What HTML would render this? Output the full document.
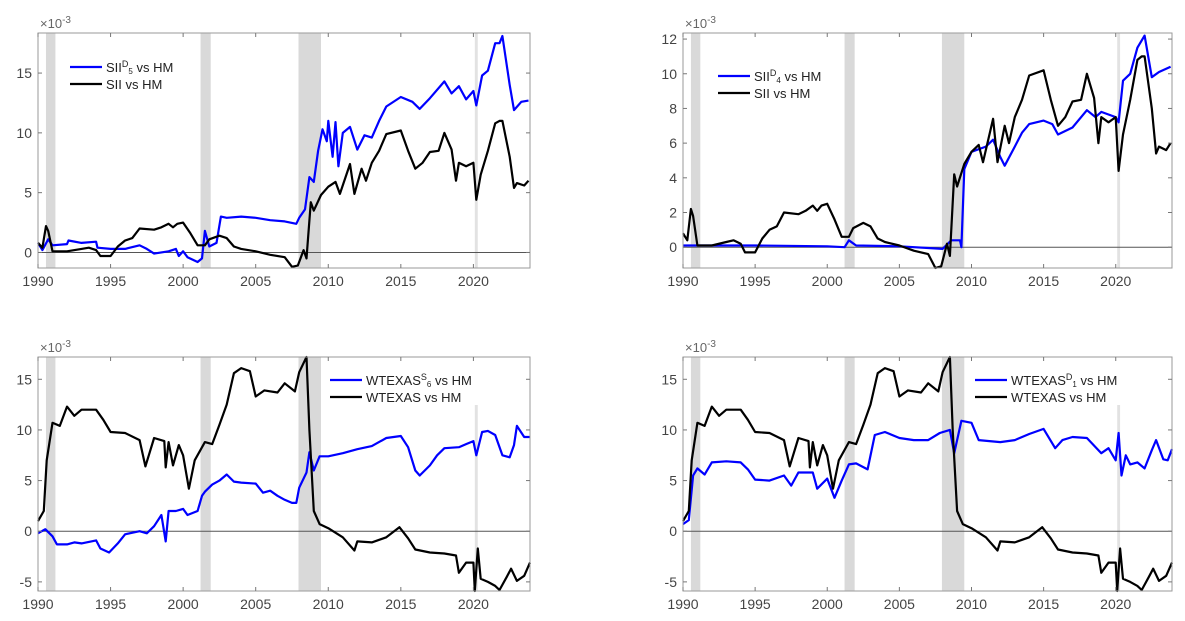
<!DOCTYPE html>
<html><head><meta charset="utf-8">
<style>
html,body{margin:0;padding:0;background:#fff;}
svg{display:block;font-family:"Liberation Sans",sans-serif;}
</style></head>
<body>
<svg id="chart" width="1185" height="621" viewBox="0 0 1185 621" xmlns="http://www.w3.org/2000/svg"></svg>
<script>
const recessions = [[1990.55,1991.2],[2001.2,2001.9],[2007.95,2009.5]];
const covidBar = [2020.1,2020.3];
const xTicks = [1990,1995,2000,2005,2010,2015,2020];

const siiVsHm = [[1990,0.8],[1990.3,0.4],[1990.55,2.2],[1990.7,1.8],[1991,0.1],[1992,0.1],[1993,0.3],[1993.5,0.4],[1994,0.2],[1994.3,-0.3],[1995,-0.3],[1995.5,0.5],[1996,1],[1996.5,1.2],[1997,2],[1998,1.9],[1998.5,2.1],[1999,2.4],[1999.3,2.1],[1999.6,2.4],[2000,2.5],[2000.5,1.6],[2001,0.6],[2001.5,0.6],[2001.8,1.1],[2002.5,1.4],[2003,1.2],[2003.5,0.5],[2004,0.3],[2005,0.1],[2006,-0.2],[2007,-0.4],[2007.5,-1.2],[2007.9,-1.1],[2008.3,0.2],[2008.5,-0.5],[2008.8,4.2],[2009,3.5],[2009.5,4.8],[2010,5.5],[2010.5,5.9],[2010.8,4.9],[2011.5,7.4],[2011.8,4.9],[2012.3,7],[2012.6,6],[2013,7.5],[2013.5,8.5],[2014,9.9],[2015,10.2],[2015.5,8.5],[2016,7],[2016.5,7.5],[2017,8.4],[2017.6,8.5],[2018,10],[2018.5,8.6],[2018.8,6],[2019,7.5],[2019.5,7.2],[2020,7.5],[2020.2,4.4],[2020.5,6.5],[2021,8.5],[2021.5,10.8],[2021.8,11],[2022,11],[2022.5,8],[2022.8,5.4],[2023,5.8],[2023.5,5.6],[2023.8,6]];
const siiD5 = [[1990,0.8],[1990.3,0.2],[1990.7,1.1],[1991,0.6],[1992,0.7],[1992.1,1],[1993,0.8],[1994,0.9],[1994.1,0.4],[1995,0.3],[1996,0.3],[1997,0.6],[1997.5,0.3],[1998,-0.1],[1999,0.1],[1999.5,0.3],[1999.7,-0.3],[2000,0.1],[2000.3,-0.4],[2001,-0.8],[2001.3,-0.5],[2001.5,1.8],[2001.8,0.5],[2002.3,0.8],[2002.6,3],[2003,2.9],[2004,3],[2005,2.9],[2006,2.7],[2007,2.6],[2007.8,2.4],[2008,2.9],[2008.4,3.6],[2008.7,6.3],[2009,5.9],[2009.3,8.5],[2009.6,10.3],[2009.9,9.3],[2010,11],[2010.3,8],[2010.5,10.9],[2010.7,7.2],[2011,10],[2011.5,10.5],[2012,8.6],[2012.5,9.8],[2013,9.6],[2013.5,11],[2014,12.2],[2015,13],[2015.8,12.6],[2016.3,12],[2017,12.9],[2018,14.3],[2018.5,13.3],[2019,13.9],[2019.5,12.8],[2020,13.5],[2020.2,12.3],[2020.6,14.8],[2021,15.2],[2021.5,17.5],[2021.8,17.5],[2022,18.1],[2022.5,14],[2022.8,11.9],[2023.3,12.6],[2023.8,12.7]];
const siiD4 = [[1990,0.1],[1995,0.1],[2000,0.05],[2001.2,0.0],[2001.5,0.4],[2002,0.1],[2005,0.05],[2008,-0.1],[2008.6,0.4],[2009.2,0.4],[2009.3,0],[2009.5,4.5],[2010,5.5],[2011,5.8],[2011.5,6.2],[2012,5.2],[2012.3,4.7],[2013,5.8],[2013.5,6.6],[2014,7.1],[2015,7.3],[2015.6,7.1],[2016,6.5],[2017,6.9],[2018,7.9],[2018.6,7.5],[2019,7.8],[2020,7.5],[2020.2,7.2],[2020.5,9.6],[2021,10],[2021.5,11.5],[2022,12.2],[2022.5,9.8],[2023,10.1],[2023.8,10.4]];
const wtexas = [[1990,1],[1990.4,2],[1990.6,7],[1991,10.7],[1991.5,10.4],[1992,12.3],[1992.5,11.4],[1993,12],[1994,12],[1994.5,11],[1995,9.8],[1996,9.7],[1997,9],[1997.4,6.4],[1998,9.2],[1998.7,8.9],[1998.8,6.3],[1999,8.8],[1999.3,6.5],[1999.7,8.5],[2000,7.5],[2000.4,4.2],[2000.8,7],[2001.5,8.8],[2002,8.6],[2002.5,10.5],[2003,12.5],[2003.5,15.6],[2004,16.1],[2004.6,15.8],[2005,13.3],[2005.6,13.9],[2006.5,13.7],[2007,14.6],[2007.7,13.8],[2008,15.7],[2008.5,17.2],[2008.7,10],[2009,2],[2009.4,0.7],[2010,0.3],[2011,-0.6],[2011.8,-1.9],[2012,-1],[2013,-1.1],[2014,-0.6],[2014.9,0.4],[2015.5,-0.7],[2016,-1.8],[2017,-2.1],[2018,-2.2],[2018.8,-2.4],[2019,-4.1],[2019.5,-3.1],[2020,-3.1],[2020.1,-5.9],[2020.3,-1.7],[2020.5,-4.7],[2021,-5],[2021.5,-5.4],[2021.8,-5.8],[2022.3,-4.5],[2022.6,-3.7],[2023,-4.9],[2023.5,-4.4],[2023.9,-3.1]];
const wtexasS6 = [[1990,-0.2],[1990.5,0.2],[1991,-0.5],[1991.3,-1.3],[1992,-1.3],[1992.5,-1.1],[1993,-1.2],[1994,-0.9],[1994.3,-1.7],[1994.9,-2.1],[1995.5,-1.2],[1996,-0.3],[1997,0],[1997.5,-0.2],[1998,0.5],[1998.5,1.6],[1998.8,-1],[1999,2],[1999.5,2],[2000,2.2],[2000.3,1.6],[2001,2],[2001.3,3.5],[2001.5,3.9],[2002,4.6],[2002.5,5],[2003,5.6],[2003.5,4.9],[2004,4.8],[2005,4.7],[2005.5,3.8],[2006,4],[2006.5,3.5],[2007,3.1],[2007.5,2.8],[2007.8,2.8],[2008,4.3],[2008.5,5.8],[2008.7,7.8],[2009,6],[2009.4,7.4],[2010,7.4],[2011,7.7],[2012,8.1],[2013,8.4],[2014,9.2],[2015,9.4],[2015.5,8.3],[2016,6],[2016.3,5.5],[2017,6.5],[2017.5,7.5],[2018,8.2],[2019,8.3],[2019.5,8.6],[2020,8.9],[2020.2,7.5],[2020.6,9.8],[2021,9.9],[2021.5,9.5],[2022,7.5],[2022.5,7.3],[2022.8,8.5],[2023,10.4],[2023.5,9.3],[2023.9,9.3]];
const wtexasD1 = [[1990,0.7],[1990.4,1.1],[1990.7,5.5],[1991,6.2],[1991.5,5.6],[1992,6.8],[1993,6.9],[1994,6.8],[1994.5,6.1],[1995,5.1],[1996,5],[1997,5.5],[1997.5,4.5],[1998,5.8],[1999,5.8],[1999.3,4.2],[2000,5.2],[2000.5,3.3],[2001,5],[2001.5,6.6],[2002,6.7],[2002.8,6.1],[2003.3,9.5],[2004,9.8],[2005,9.2],[2006,9],[2007,9],[2007.8,9.7],[2008.5,10],[2008.8,7.7],[2009.3,10.9],[2010,10.7],[2010.5,9],[2012,8.8],[2013,9],[2014,9.6],[2015,10.1],[2015.8,8.2],[2016.3,9],[2017,9.3],[2018,9.2],[2019,7.7],[2019.5,8.2],[2020,7],[2020.2,9.7],[2020.4,5.5],[2020.7,7.5],[2021,6.6],[2021.5,6.8],[2022,6.2],[2022.5,8],[2022.8,9],[2023.3,7.1],[2023.6,7],[2023.9,8.1]];

const panels = [
 {name:'panel-sii-d5', x0:38,x1:530,y0:33,y1:268, yMin:-1.3,yMax:18.35, yTicks:[0,5,10,15], blue:siiD5, black:siiVsHm,
  leg:{x:70,y:67}, blueLabel:['SII','D','5',' vs HM'], blackLabel:'SII vs HM', covidTop:0},
 {name:'panel-sii-d4', x0:683,x1:1172,y0:33,y1:268, yMin:-1.2,yMax:12.35, yTicks:[0,2,4,6,8,10,12], blue:siiD4, black:siiVsHm,
  leg:{x:718,y:76}, blueLabel:['SII','D','4',' vs HM'], blackLabel:'SII vs HM', covidTop:0},
 {name:'panel-wtexas-s6', x0:38,x1:530,y0:357,y1:591, yMin:-5.9,yMax:17.2, yTicks:[-5,0,5,10,15], blue:wtexasS6, black:wtexas,
  leg:{x:330,y:380}, blueLabel:['WTEXAS','S','6',' vs HM'], blackLabel:'WTEXAS vs HM', covidTop:48},
 {name:'panel-wtexas-d1', x0:683,x1:1172,y0:357,y1:591, yMin:-5.9,yMax:17.2, yTicks:[-5,0,5,10,15], blue:wtexasD1, black:wtexas,
  leg:{x:975,y:380}, blueLabel:['WTEXAS','D','1',' vs HM'], blackLabel:'WTEXAS vs HM', covidTop:48}
];
const NS='http://www.w3.org/2000/svg';
const svg=document.getElementById('chart');
function mk(tag,attrs,parent){const e=document.createElementNS(NS,tag);for(const k in attrs)e.setAttribute(k,attrs[k]);(parent||svg).appendChild(e);return e;}

panels.forEach(p=>{
  const g=mk('g',{});
  
  
  const xs=v=>p.x0+(v-1990)/(2023.9-1990)*(p.x1-p.x0);
  const ys=v=>p.y1-(v-p.yMin)/(p.yMax-p.yMin)*(p.y1-p.y0);
  recessions.forEach(r=>{
    const rc=mk('rect',{x:xs(r[0]),y:p.y0,width:xs(r[1])-xs(r[0]),height:p.y1-p.y0,fill:'#d9d9d9'},g);
    
    
  });
  const cb=mk('rect',{x:xs(covidBar[0]),y:p.y0+p.covidTop,width:xs(covidBar[1])-xs(covidBar[0]),height:p.y1-p.y0-p.covidTop,fill:'#e2e2e2'},g);
  
  
  const zl=mk('line',{x1:p.x0,x2:p.x1,y1:ys(0),y2:ys(0),stroke:'#555','stroke-width':1},g);
  
  
  [[p.blue,'#0000ff','blue-series'],[p.black,'#000','black-series']].forEach(s=>{
    const pl=mk('polyline',{points:s[0].map(d=>xs(d[0]).toFixed(1)+','+ys(d[1]).toFixed(1)).join(' '),fill:'none',stroke:s[1],'stroke-width':2.2,'stroke-linejoin':'round'},g);
    
    
  });
  const box=mk('rect',{x:p.x0,y:p.y0,width:p.x1-p.x0,height:p.y1-p.y0,fill:'none',stroke:'#9a9a9a','stroke-width':1},g);
  
  
  xTicks.forEach(t=>{
    mk('line',{x1:xs(t),x2:xs(t),y1:p.y1,y2:p.y1-4,stroke:'#777'},g);
    mk('line',{x1:xs(t),x2:xs(t),y1:p.y0,y2:p.y0+4,stroke:'#777'},g);
    const tx=mk('text',{x:xs(t),y:p.y1+18,'text-anchor':'middle','font-size':14,fill:'#444'},g);
    tx.textContent=t;
    
    
  });
  p.yTicks.forEach(t=>{
    mk('line',{x1:p.x0,x2:p.x0+4,y1:ys(t),y2:ys(t),stroke:'#777'},g);
    mk('line',{x1:p.x1,x2:p.x1-4,y1:ys(t),y2:ys(t),stroke:'#777'},g);
    const tx=mk('text',{x:p.x0-6,y:ys(t)+5,'text-anchor':'end','font-size':14,fill:'#444'},g);
    tx.textContent=t;
    
    
  });
  const ex=mk('text',{x:p.x0+2,y:p.y0-5,'font-size':13,fill:'#666'},g);
  
  
  ex.innerHTML='×10<tspan dy="-5" font-size="10">-3</tspan>';
  const lg=mk('g',{},g);
  
  
  mk('line',{x1:p.leg.x,x2:p.leg.x+32,y1:p.leg.y,y2:p.leg.y,stroke:'#0000ff','stroke-width':2.2},lg);
  mk('line',{x1:p.leg.x,x2:p.leg.x+32,y1:p.leg.y+17,y2:p.leg.y+17,stroke:'#000','stroke-width':2.2},lg);
  const b=p.blueLabel;
  const t1=mk('text',{x:p.leg.x+36,y:p.leg.y+5,'font-size':13,fill:'#222'},lg);
  
  
  t1.innerHTML=b[0]+'<tspan dy="-5" font-size="9">'+b[1]+'</tspan><tspan dy="7" font-size="8">'+b[2]+'</tspan><tspan dy="-2">'+b[3]+'</tspan>';
  const t2=mk('text',{x:p.leg.x+36,y:p.leg.y+22,'font-size':13,fill:'#222'},lg);
  
  
  t2.textContent=p.blackLabel;
});
</script>
</body></html>
